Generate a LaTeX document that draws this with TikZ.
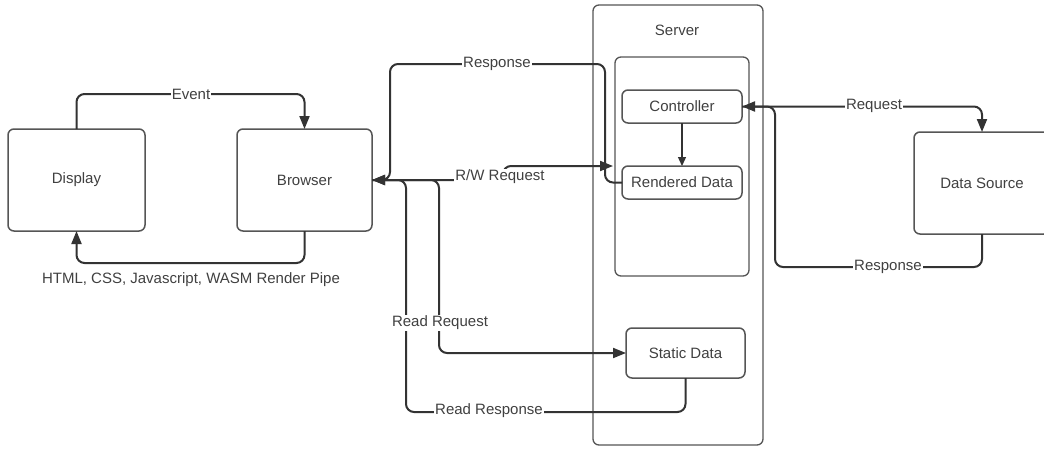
\documentclass[tikz,border=0pt]{standalone}
\usepackage{fontspec}
\setmainfont{Liberation Sans}
\usetikzlibrary{arrows.meta}
\definecolor{ink}{HTML}{333333}
\definecolor{edge}{HTML}{555555}
\definecolor{txt}{HTML}{404040}
\begin{document}
\begin{tikzpicture}[x=1pt,y=-1pt,
  every node/.style={font=\fontsize{15}{18}\selectfont, text=txt},
  box/.style={draw=edge, line width=1.5pt, rounded corners=6pt, fill=white,
    inner sep=0pt, outer sep=0pt},
  frame/.style={draw=edge, line width=1.3pt, rounded corners=6pt,
    inner sep=0pt, outer sep=0pt},
  conn/.style={draw=ink, line width=2pt, rounded corners=8pt},
  tip/.style={-{Triangle[length=13pt,width=10pt]}},
  smalltip/.style={-{Triangle[length=9pt,width=8pt]}},
  lbl/.style={fill=white, inner sep=1pt},
]
\useasboundingbox (0,0) rectangle (1044,448);
\clip (0,0) rectangle (1044,448);

% server enclosure and its inner frame
\node[frame, minimum width=170pt, minimum height=440pt] (server) at (678,225) {};
\node (servertitle) at (677,30) {Server};
\node[frame, minimum width=134pt, minimum height=219pt] (inner) at (682,166.5) {};

% components
\node[box, minimum width=137pt, minimum height=102pt] (display) at (76.5,180) {Display};
\node[box, minimum width=135pt, minimum height=102pt] (browser) at (304.5,180) {Browser};
\node[box, minimum width=120pt, minimum height=33pt] (controller) at (682,106.5) {Controller};
\node[box, minimum width=120pt, minimum height=33pt] (rendered) at (682,182.5) {Rendered Data};
\node[box, minimum width=119pt, minimum height=50pt] (static) at (685.5,353) {Static Data};
\node[box, minimum width=136pt, minimum height=102pt] (source) at (982,183) {Data Source};

\coordinate (rwend) at (613,166);

% display <-> browser loop
\draw[conn,tip] (display.north) -- ++(0,-35) -| (browser.north);
\draw[conn,tip] (browser.south) -- ++(0,32) -| (display.south);

% browser <-> server
\draw[conn,tip] (rendered.west) -| (605,64) -| (390,180) -- (browser.east);
\draw[conn,tip] (browser.east) -| (503,166) -- (rwend);
\draw[conn,tip] (browser.east) -| (439,353) -- (static.west);
\draw[conn,tip] (static.south) |- (406,412) |- (browser.east);

% inside the server
\draw[draw=ink, line width=1.3pt, smalltip] (controller.south) -- (rendered.north);

% server <-> data source
\draw[conn,tip] (controller.east) -| (source.north);
\draw[conn,tip] (source.south) |- (775,267) |- (controller.east);

% connector labels
\node[lbl] (levent) at (191,94) {Event};
\node (lpipe) at (191,280) {HTML, CSS, Javascript, WASM Render Pipe};
\node[lbl] (lresp) at (497,64) {Response};
\node[lbl] (lrw) at (500,177) {R/W Request};
\node[lbl] (lread) at (440,323) {Read Request};
\node[lbl] (lreadresp) at (489,411) {Read Response};
\node[lbl] (lreq) at (874,106) {Request};
\node[lbl] (lresp2) at (888,267) {Response};
\end{tikzpicture}
\end{document}
